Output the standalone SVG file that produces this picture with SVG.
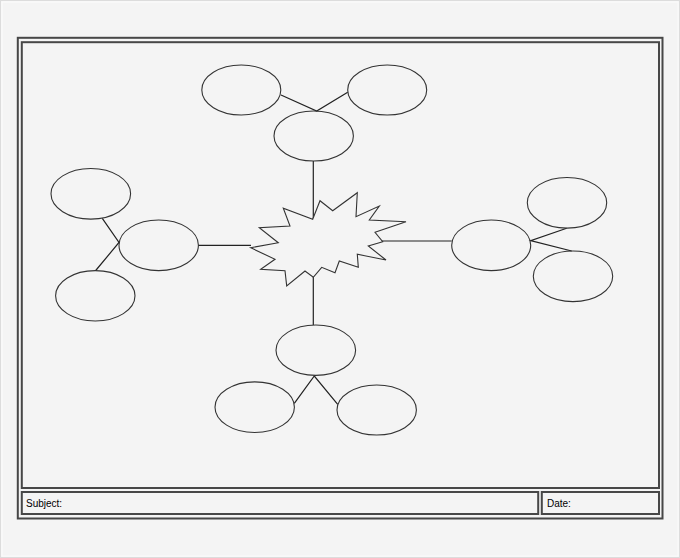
<svg xmlns="http://www.w3.org/2000/svg" width="680" height="558" viewBox="0 0 680 558">
<style>
.frame{fill:none;stroke:#474747;stroke-width:2}
.node ellipse{fill:none;stroke:#333;stroke-width:1.1}
.conn line,.conn polyline{fill:none;stroke:#222;stroke-width:1.2}
.star{fill:#f4f4f4;stroke:#333;stroke-width:1.1;stroke-linejoin:miter}
.lbl{font-family:"Liberation Sans",Arial,sans-serif;font-size:10px;fill:#000}
</style>
<rect x="0" y="0" width="680" height="558" fill="#f4f4f4"/>
<rect x="0.5" y="0.5" width="679" height="557" fill="none" stroke="#dcdcdc" stroke-width="1"/>
<rect x="2" y="2" width="676" height="554" fill="none" stroke="#fbfbfb" stroke-width="1"/>
<g id="frame">
<rect class="frame" x="17.8" y="37.8" width="644.7" height="480.7"/>
<rect class="frame" x="21.8" y="42.2" width="637.2" height="445.8"/>
<rect class="frame" x="21.8" y="492" width="516.4" height="22"/>
<rect class="frame" x="541.8" y="492" width="117.2" height="22"/>
<text class="lbl" x="26" y="506.5">Subject:</text>
<text class="lbl" x="547" y="506.5">Date:</text>
</g>
<g id="connectors" class="conn">
<line x1="313.3" y1="161" x2="313.3" y2="219.5"/>
<line x1="313.3" y1="277" x2="313.3" y2="325"/>
<line x1="198.3" y1="245.3" x2="251" y2="245.3"/>
<line x1="382" y1="241" x2="451.7" y2="241"/>
<polyline points="281,95 316.7,111 347.7,92.3"/>
<polyline points="102.3,218.3 119,242.5 95.7,270.5"/>
<polyline points="566.7,228.3 530.7,240.7 571.7,251"/>
<polyline points="294.3,403.3 314.3,376 337.7,404.3"/>
</g>
<g id="center">
<polygon class="star" points="312.7,219.3 320,200.7 332.7,210.7 357.3,192.7 356,216.7 379.3,206 369.3,220 406,221.7 375,232.3 382.7,241.7 368.3,246 386,260 357.3,254.3 358.3,267.3 339.3,261 335,272.7 321.7,267.3 313.3,277.3 305,271 286.7,286 285,270.7 260.7,269.3 275,259.3 250.7,247.7 278.3,242.7 259.3,227.7 290,226 283.3,208.3"/>
</g>
<g id="top-mid" class="node"><ellipse cx="313.7" cy="136" rx="39.7" ry="25"/></g>
<g id="top-left" class="node"><ellipse cx="241.3" cy="90" rx="39.5" ry="25"/></g>
<g id="top-right" class="node"><ellipse cx="387.2" cy="90" rx="39.5" ry="25"/></g>
<g id="left-mid" class="node"><ellipse cx="158.7" cy="245.3" rx="39.7" ry="25.3"/></g>
<g id="left-top" class="node"><ellipse cx="90.8" cy="193.8" rx="39.8" ry="25.3"/></g>
<g id="left-bottom" class="node"><ellipse cx="95.3" cy="295.8" rx="39.7" ry="25.2"/></g>
<g id="right-mid" class="node"><ellipse cx="491.2" cy="245.3" rx="39.5" ry="25.3"/></g>
<g id="right-top" class="node"><ellipse cx="567" cy="202.8" rx="39.7" ry="25.3"/></g>
<g id="right-bottom" class="node"><ellipse cx="573" cy="276.3" rx="39.7" ry="25.3"/></g>
<g id="bottom-mid" class="node"><ellipse cx="315.8" cy="350.2" rx="39.8" ry="25.2"/></g>
<g id="bottom-left" class="node"><ellipse cx="254.7" cy="407.2" rx="39.7" ry="25.3"/></g>
<g id="bottom-right" class="node"><ellipse cx="376.7" cy="410" rx="39.7" ry="25"/></g>
</svg>
